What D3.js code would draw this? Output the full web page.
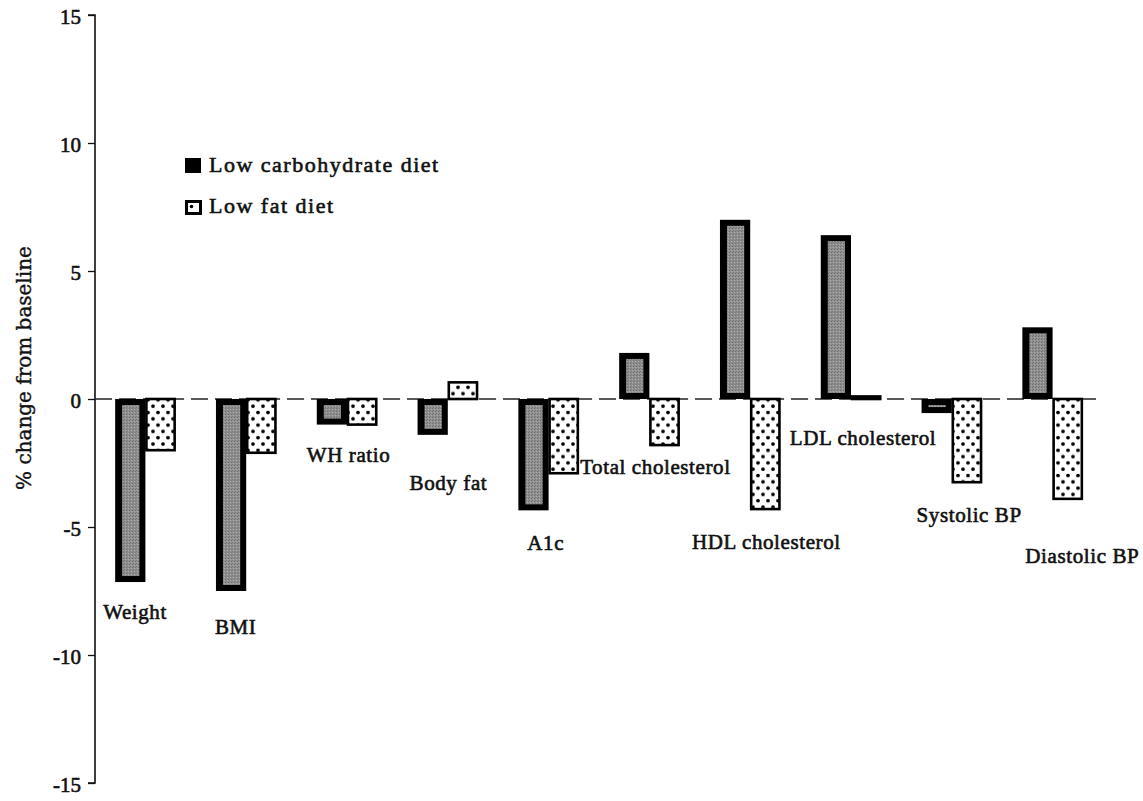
<!DOCTYPE html>
<html>
<head>
<meta charset="utf-8">
<script src="https://cdn.jsdelivr.net/npm/d3@7/dist/d3.min.js"></script>
<style>
  html, body { margin: 0; padding: 0; background: #fff; }
  svg { display: block; }
  .serif { font-family: "Liberation Serif", "Times New Roman", serif; fill: #111; stroke: #111; stroke-width: 0.6px; }
</style>
</head>
<body>
<svg id="chart" width="1143" height="801"></svg>
<script>
// Percent change from baseline, by outcome and diet arm
const categories = ["Weight", "BMI", "WH ratio", "Body fat", "A1c",
  "Total cholesterol", "HDL cholesterol", "LDL cholesterol", "Systolic BP", "Diastolic BP"];
const series = ["Low carbohydrate diet", "Low fat diet"];
const lowCarb = [-7.15, -7.5, -1.0, -1.4, -4.35, 1.8, 7.0, 6.4, -0.55, 2.8];
const lowFat  = [-2.0, -2.1, -1.0, 0.65, -2.9, -1.8, -4.3, 0.1, -3.25, -3.9];
const yTicks = [15, 10, 5, 0, -5, -10, -15];

const svg = d3.select("#chart");
const plotLeft = 95, plotRight = 1103, plotTop = 15, plotBottom = 783;

const y = d3.scaleLinear().domain([-15, 15]).range([plotBottom, plotTop]);
const x0 = d3.scaleBand().domain(categories).range([plotLeft, plotRight])
  .paddingInner(0.4).paddingOuter(0.2);
const x1 = d3.scaleBand().domain(series).range([0, x0.bandwidth()]);

// Fill patterns: stippled grey core and white with black dots
const defs = svg.append("defs");
const grey = defs.append("pattern").attr("id", "greyStipple")
  .attr("width", 3).attr("height", 3).attr("patternUnits", "userSpaceOnUse");
grey.append("rect").attr("width", 3).attr("height", 3).attr("fill", "#909090");
grey.append("rect").attr("x", 0).attr("y", 0).attr("width", 1).attr("height", 1).attr("fill", "#6e6e6e");
grey.append("rect").attr("x", 2).attr("y", 1).attr("width", 1).attr("height", 1).attr("fill", "#ababab");
grey.append("rect").attr("x", 1).attr("y", 2).attr("width", 1).attr("height", 1).attr("fill", "#787878");

const dots = defs.append("pattern").attr("id", "dots")
  .attr("width", 10).attr("height", 12.6).attr("patternUnits", "userSpaceOnUse");
dots.append("rect").attr("width", 10).attr("height", 12.6).attr("fill", "#fff");
dots.append("circle").attr("cx", 3).attr("cy", 3).attr("r", 1.9).attr("fill", "#000");
dots.append("circle").attr("cx", 8).attr("cy", 9.3).attr("r", 1.9).attr("fill", "#000");

// Y axis (plain hyphen for negative ticks)
const yAxis = d3.axisLeft(y).tickValues(yTicks).tickSize(7).tickPadding(7)
  .tickFormat(d => String(d));
const ga = svg.append("g").attr("transform", `translate(${plotLeft},0)`).call(yAxis);
ga.select(".domain").attr("stroke", "#111").attr("stroke-width", 1.6)
  .attr("d", `M-7,${plotTop}H0V${plotBottom}H-7`);
ga.selectAll(".tick line").attr("stroke", "#111").attr("stroke-width", 1.3);
ga.selectAll(".tick text").attr("class", "serif").style("font-size", "21px")
  .attr("dy", "0.42em");

// Zero reference line
svg.append("line")
  .attr("x1", plotLeft).attr("x2", plotRight).attr("y1", y(0)).attr("y2", y(0))
  .attr("stroke", "#222").attr("stroke-width", 1.5).attr("stroke-dasharray", "17,7");

// Low carbohydrate bars: heavy black frame with grey stippled core
const border = 6;
const carb = svg.append("g").selectAll("g").data(categories).join("g");
carb.append("rect")
  .attr("x", d => x0(d) + x1(series[0]))
  .attr("y", (d, i) => y(Math.max(0, lowCarb[i])))
  .attr("width", x1.bandwidth())
  .attr("height", (d, i) => Math.abs(y(lowCarb[i]) - y(0)))
  .attr("fill", "#000");
carb.append("rect")
  .attr("x", d => x0(d) + x1(series[0]) + border + 1)
  .attr("y", (d, i) => y(Math.max(0, lowCarb[i])) + border)
  .attr("width", x1.bandwidth() - 2 * border - 1)
  .attr("height", (d, i) => Math.max(0, Math.abs(y(lowCarb[i]) - y(0)) - 2 * border))
  .attr("fill", "url(#greyStipple)");

// Low fat bars: dotted white with thin black frame
svg.append("g").selectAll("rect").data(categories).join("rect")
  .attr("x", d => x0(d) + x1(series[1]) + 1)
  .attr("y", (d, i) => y(Math.max(0, lowFat[i])))
  .attr("width", x1.bandwidth() - 2)
  .attr("height", (d, i) => Math.abs(y(lowFat[i]) - y(0)))
  .attr("fill", "url(#dots)")
  .attr("stroke", "#000").attr("stroke-width", 2.6);

// Category labels, set beside or below their bars
const labelSpots = [[-12, -8.6], [-1, -9.18], [-10, -2.46], [-8, -3.55], [9, -5.9],
  [-39, -2.93], [-28, -5.86], [-31, -1.8], [-5, -4.8], [3, -6.4]];
svg.append("g").selectAll("text").data(categories).join("text")
  .attr("class", "serif")
  .attr("x", (d, i) => x0(d) + labelSpots[i][0])
  .attr("y", (d, i) => y(labelSpots[i][1]))
  .style("font-size", "21px").style("letter-spacing", "0.6px")
  .text(d => d);

// Y axis title
svg.append("text")
  .attr("transform", `translate(31,368) rotate(-90)`)
  .attr("text-anchor", "middle")
  .style("font-family", "'DejaVu Serif', serif")
  .style("font-size", "20px")
  .attr("fill", "#111").attr("stroke", "#111").attr("stroke-width", 0.4)
  .text("% change from baseline");

// Legend
const legend = svg.append("g").attr("transform", "translate(185,158)");
legend.append("rect").attr("width", 16).attr("height", 15).attr("fill", "#000");
legend.append("rect").attr("x", 1.5).attr("y", 43.5).attr("width", 14).attr("height", 12)
  .attr("fill", "#fff").attr("stroke", "#000").attr("stroke-width", 3);
legend.append("circle").attr("cx", 6.5).attr("cy", 48.5).attr("r", 1.8).attr("fill", "#000");
legend.selectAll("text").data(series).join("text")
  .attr("class", "serif")
  .attr("x", 24).attr("y", (d, i) => 14 + i * 41)
  .style("font-size", "22px").style("letter-spacing", "1.5px")
  .text(d => d);
</script>
</body>
</html>
